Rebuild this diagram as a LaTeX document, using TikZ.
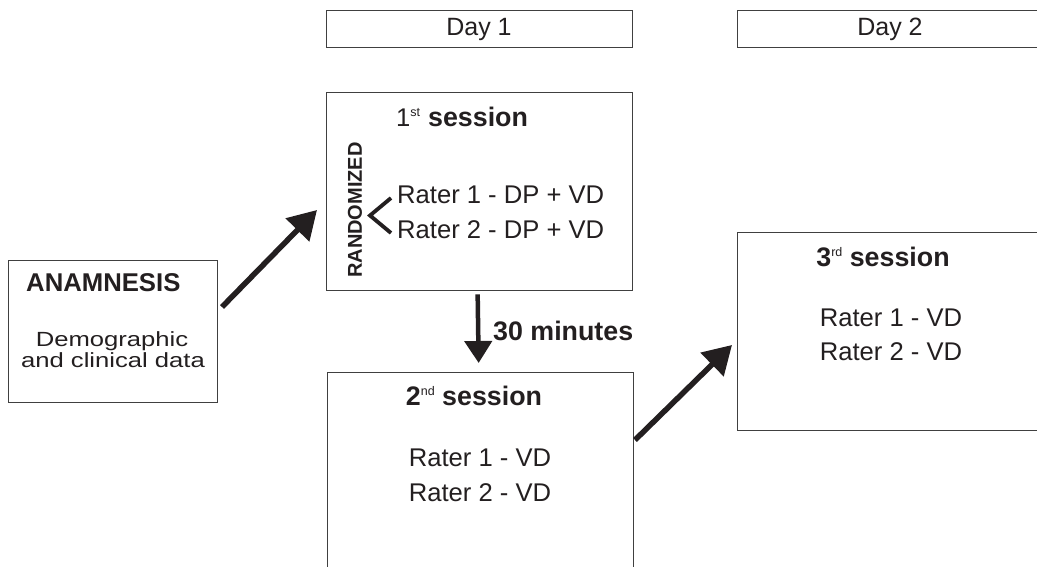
\documentclass[tikz,border=0pt]{standalone}
\usepackage{fontspec}
\setmainfont{Liberation Sans}
\usetikzlibrary{arrows.meta,positioning}
\definecolor{ink}{HTML}{231F20}
\definecolor{frame}{HTML}{404040}
\newcommand{\ordsup}[1]{\raisebox{10pt}{\fontsize{12.5}{12}\mdseries\selectfont #1}}
\newcommand{\widetext}[1]{\scalebox{1.25}[1]{#1}}

\begin{document}
\begin{tikzpicture}[x=1pt,y=-1pt,
    box/.style={draw=frame,line width=1.3pt,minimum width=306pt,anchor=north west,inner sep=0pt},
    txt/.style={text=ink,font=\fontsize{25.6}{30}\selectfont,anchor=base,inner sep=0pt},
    head/.style={txt,font=\fontsize{26.8}{30}\selectfont\bfseries},
    bigarrow/.style={draw=ink,line width=5.5pt,-{Triangle[length=28pt,width=32pt]}},
    downarrow/.style={draw=ink,line width=4.5pt,-{Triangle[length=22pt,width=27pt]}},
  ]
    \fill[white] (0,0) rectangle (1037,567);
    \clip (0,0) rectangle (1037,567);
    % days
    \node[box,minimum height=37pt] (day1) at (326,10) {};
    \node[box,minimum height=37pt] (day2) at (737,10) {};
    \node[txt,font=\fontsize{25}{30}\selectfont] (day1t) at (479,36) {Day 1};
    \node[txt,font=\fontsize{25}{30}\selectfont] (day2t) at (890,36) {Day 2};

    % anamnesis
    \node[box,minimum width=209pt,minimum height=142pt] (anam) at (8,260) {};
    \node[txt,font=\fontsize{25.7}{30}\selectfont\bfseries,anchor=base west] (anamt) at (26,291) {ANAMNESIS};
    \node[txt,font=\fontsize{20.5}{24}\selectfont] (demo) at (112,346) {\widetext{Demographic}};
    \node[txt,font=\fontsize{20.5}{24}\selectfont] (clin) at (113,367) {\widetext{and clinical data}};

    % 1st session
    \node[box,minimum height=198pt] (sesA) at (326,92) {};
    \node[txt,anchor=base west] (sesAt) at (396,127) {1\ordsup{st}\hspace{8pt}\textbf{\fontsize{26.8}{30}\selectfont session}};
    \node[txt,font=\fontsize{20}{24}\selectfont\bfseries,anchor=center,rotate=90] (rand) at (355,210) {RANDOMIZED};
    \draw[ink,line width=3.8pt] (391,198) -- (370,215.5) -- (391,233);
    \node[txt,anchor=base west] (sesAr1) at (397,204) {Rater 1 - DP + VD};
    \node[txt,anchor=base west] (sesAr2) at (397,239) {Rater 2 - DP + VD};

    % 2nd session
    \node[box,minimum height=198pt] (sesB) at (327,372) {};
    \node[head] (sesBt) at (474,405) {2\ordsup{nd} session};
    \node[txt] (sesBr1) at (480,466) {Rater 1 - VD};
    \node[txt] (sesBr2) at (480,501) {Rater 2 - VD};

    % 3rd session
    \node[box,minimum height=198pt] (sesC) at (737,232) {};
    \node[head] (sesCt) at (883,266) {3\ordsup{rd} session};
    \node[txt] (sesCr1) at (891,326) {Rater 1 - VD};
    \node[txt] (sesCr2) at (891,360) {Rater 2 - VD};

    % arrows
    \coordinate (a1from) at (222,307);
    \coordinate (a1to) at (317,210);
    \coordinate (a3from) at (635,440);
    \coordinate (a3to) at (732,345);
    \draw[bigarrow] (a1from) -- (a1to);
    \draw[downarrow] ([xshift=-2pt,yshift=-3pt]sesA.south) -- ([xshift=-2pt,yshift=9pt]sesB.north);
    \node[head,anchor=base west] (wait) at (493,340) {30 minutes};
    \draw[bigarrow] (a3from) -- (a3to);
\end{tikzpicture}
\end{document}
